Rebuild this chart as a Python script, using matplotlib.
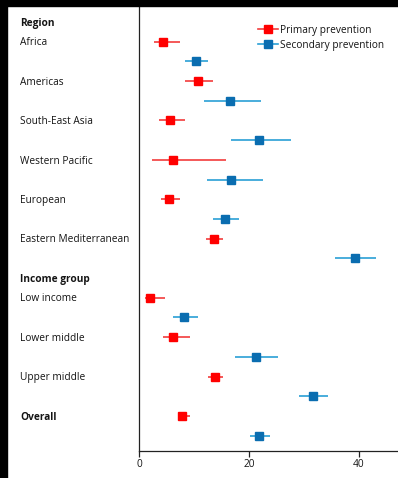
import matplotlib
matplotlib.use("Agg")
import matplotlib.pyplot as plt
import matplotlib.transforms as mtransforms
from matplotlib.patches import Rectangle

plt.rcParams['font.family'] = ['Open Sans', 'DejaVu Sans']

# Row labels (headers in bold)
row_labels = ["Region", "Africa", "Americas", "South-East Asia", "Western Pacific",
              "European", "Eastern Mediterranean", "Income group", "Low income",
              "Lower middle", "Upper middle", "Overall"]
row_is_header = [True, False, False, False, False, False, False, True, False,
                 False, False, True]

groups = ["Africa", "Americas", "South-East Asia", "Western Pacific", "European",
          "Eastern Mediterranean", "Low income", "Lower middle", "Upper middle",
          "Overall"]

# Primary prevention: estimate, lower, upper
primary_est = [4.4, 10.7, 5.6, 6.2, 5.4, 13.6, 2.0, 6.2, 13.8, 7.9]
primary_lo = [2.8, 8.4, 3.6, 2.4, 4.0, 12.2, 1.0, 4.3, 12.5, 7.0]
primary_hi = [7.5, 13.5, 8.4, 15.8, 7.4, 15.2, 4.7, 9.2, 15.2, 9.3]

# Secondary prevention: estimate, lower, upper
secondary_est = [10.4, 16.5, 21.8, 16.8, 15.6, 39.2, 8.2, 21.2, 31.6, 21.9]
secondary_lo = [8.4, 11.9, 16.8, 12.4, 13.5, 35.6, 6.2, 17.5, 29.0, 20.1]
secondary_hi = [12.5, 22.2, 27.7, 22.5, 18.2, 43.0, 10.7, 25.3, 34.4, 23.9]

x_ticks = [0, 20, 40]

# vertical layout: headers take one slot, each group takes two (primary, secondary)
label_pos = {}
pos = 0
for lab, hdr in zip(row_labels, row_is_header):
    label_pos[lab] = pos
    pos += 1 if (hdr and lab != "Overall") else 2

red_mk, red_ln = "#ff0000", "#f23c3c"
blue_mk, blue_ln = "#0a6db0", "#2a9fd6"
FS = 7.3
MS = 5.2
TXT = "#141414"

W, H = 398, 478
fig = plt.figure(figsize=(W / 100, H / 100), dpi=100)
ax = fig.add_axes([139 / W, 1 - 451 / H, 1 - 139 / W, 451 / H])

p_y = [label_pos[g] for g in groups]
s_y = [label_pos[g] + 1 for g in groups]

def draw(est, lo, hi, ys, mk, ln, label):
    err = [[e - l for e, l in zip(est, lo)], [h - e for e, h in zip(est, hi)]]
    ax.errorbar(est, ys, xerr=err, fmt="s", color=mk, ecolor=ln, elinewidth=1.2,
                capsize=0, markersize=MS, zorder=3)
    return ax.plot([], [], marker="s", color=ln, markerfacecolor=mk,
                   markeredgecolor=mk, markersize=MS, lw=1.2, label=label)[0]

h1 = draw(primary_est, primary_lo, primary_hi, p_y, red_mk, red_ln, "Primary prevention")
h2 = draw(secondary_est, secondary_lo, secondary_hi, s_y, blue_mk, blue_ln, "Secondary prevention")

ax.set_xlim(0, (W - 139) / 5.5)
ax.set_ylim((451 - 22) / 19.7, -22 / 19.7)
ax.set_xticks(x_ticks)
ax.set_yticks([])
ax.tick_params(axis="x", length=4, width=0.9, labelsize=FS, pad=1.5, color="#222222",
               labelcolor=TXT)
for s in ["top", "right"]:
    ax.spines[s].set_visible(False)
for s in ["bottom", "left"]:
    ax.spines[s].set_linewidth(0.9)
    ax.spines[s].set_color("#222222")

# row labels sit with their cap height centred on the row
trans = mtransforms.blended_transform_factory(fig.transFigure, ax.transData)
trans = trans + mtransforms.ScaledTranslation(0, -2.6 / 72, fig.dpi_scale_trans)
for lab, hdr in zip(row_labels, row_is_header):
    ax.text(20 / W, label_pos[lab], lab, transform=trans, ha="left", va="baseline",
            fontsize=FS, fontweight="bold" if hdr else "normal", color=TXT)

leg = fig.legend(handles=[h1, h2], loc="upper left", bbox_to_anchor=(258 / W, 1 - 24.5 / H),
                 frameon=False, fontsize=FS, handlelength=2.0, handletextpad=0.2,
                 labelspacing=0.42, borderpad=0, borderaxespad=0)
for t in leg.get_texts():
    t.set_color(TXT)

# dark frame along the top and left edges
fig.patches.append(Rectangle((0, 1 - 6 / H), 1, 6 / H, transform=fig.transFigure,
                             color="black", zorder=10))
fig.patches.append(Rectangle((0, 0), 7 / W, 1, transform=fig.transFigure,
                             color="black", zorder=10))

fig.savefig("out.png", dpi=100)
